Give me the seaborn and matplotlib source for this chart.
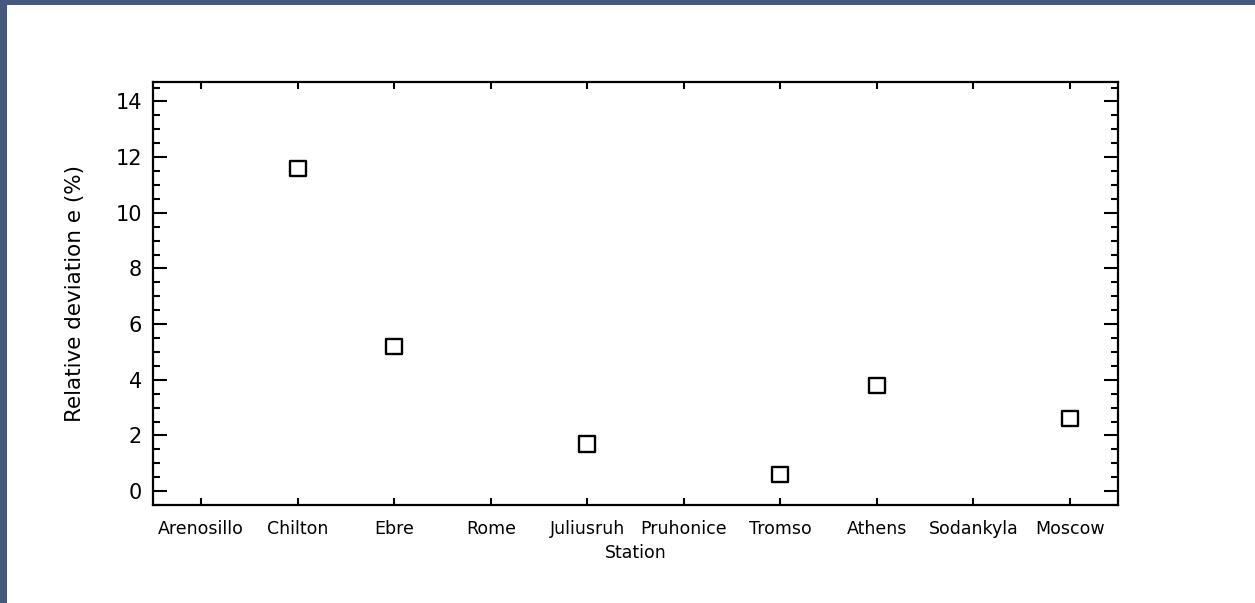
import matplotlib
matplotlib.use("Agg")
import matplotlib.pyplot as plt
from matplotlib.patches import Rectangle
from matplotlib.ticker import MultipleLocator
import numpy as np
import pandas as pd
import seaborn as sns

stations = ["Arenosillo", "Chilton", "Ebre", "Rome", "Juliusruh",
            "Pruhonice", "Tromso", "Athens", "Sodankyla", "Moscow"]
deviation = [np.nan, 11.6, 5.2, np.nan, 1.7, np.nan, 0.6, 3.8, np.nan, 2.6]

df = pd.DataFrame({"pos": np.arange(len(stations)), "station": stations,
                   "deviation": deviation}).dropna()

sns.set_theme(style="white")
plt.rcParams["font.family"] = ["DejaVu Sans"]
plt.rcParams["text.color"] = "black"
plt.rcParams["axes.labelcolor"] = "black"
plt.rcParams["xtick.color"] = "black"
plt.rcParams["ytick.color"] = "black"

fig = plt.figure(figsize=(12.55, 6.03), dpi=100)
fig.patch.set_facecolor("white")
ax = fig.add_axes([153/1255, 1-505/603, (1118-153)/1255, (505-82)/603])

sns.scatterplot(data=df, x="pos", y="deviation", marker="s", s=125,
                facecolor="none", edgecolor="black", linewidth=1.7, ax=ax)

ax.set_xlim(-0.5, len(stations) - 0.5)
ax.set_ylim(-0.5, 14.7)
ax.set_xticks(np.arange(len(stations)))
ax.set_xticklabels(stations, fontsize=12.5)
ax.yaxis.set_major_locator(MultipleLocator(2))
ax.yaxis.set_minor_locator(MultipleLocator(0.5))
ax.tick_params(axis="y", which="major", direction="in", length=10, width=1.5,
               left=True, right=True, labelsize=15, pad=8, color="black",
               labelcolor="black")
ax.tick_params(axis="y", which="minor", direction="in", length=5, width=1.5,
               left=True, right=True, color="black")
ax.tick_params(axis="x", which="major", direction="in", length=5, width=1.5,
               bottom=True, top=True, pad=11, color="black", labelcolor="black")
ax.tick_params(axis="x", which="minor", bottom=False, top=False)
for sp in ax.spines.values():
    sp.set_color("black")
    sp.set_linewidth(1.6)

ax.set_xlabel("Station", fontsize=12.5, labelpad=4, color="black")
ax.set_ylabel("Relative deviation e (%)", fontsize=15.5, labelpad=22, color="black")

border = "#46597d"
fig.patches.append(Rectangle((0, 1 - 5/603), 1, 5/603, transform=fig.transFigure,
                             facecolor=border, edgecolor="none", zorder=10))
fig.patches.append(Rectangle((0, 0), 7/1255, 1, transform=fig.transFigure,
                             facecolor=border, edgecolor="none", zorder=10))

fig.savefig("out.png", dpi=100, facecolor="white")
